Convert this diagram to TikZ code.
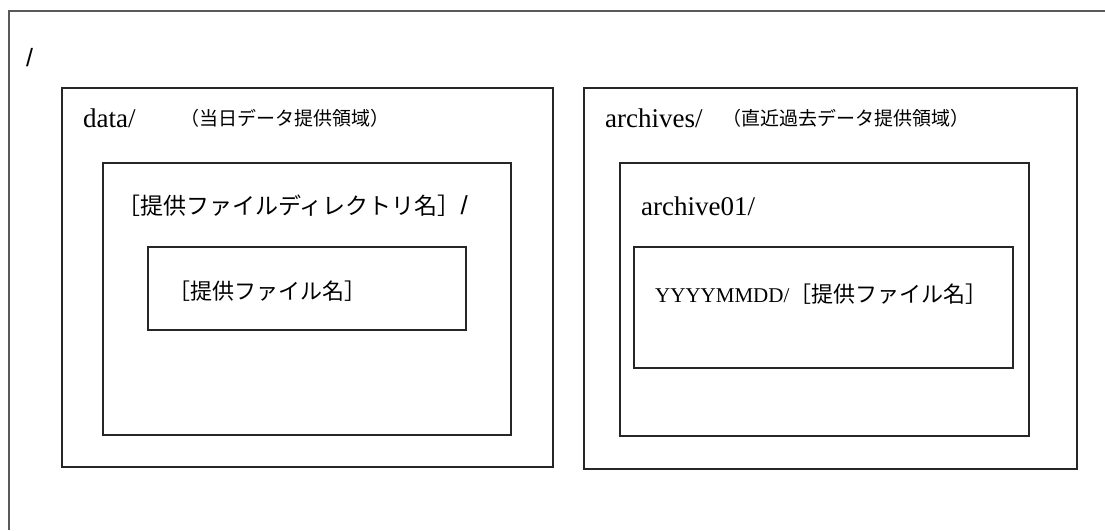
\documentclass[tikz,border=0pt]{standalone}
\usepackage{fontspec}
\setmainfont{Liberation Serif}
\newfontfamily\jpfont{Noto Sans CJK JP}
\newfontfamily\slashfont{Liberation Sans}

\tikzset{
  outerline/.style={draw=black!65,line width=1.8pt},
  dirbox/.style={draw=black!85,line width=1.2pt},
  dirname/.style={anchor=base west,inner sep=0pt,font=\fontsize{27}{27}\selectfont},
  smallname/.style={anchor=base west,inner sep=0pt,font=\fontsize{21}{21}\selectfont},
  jpnote/.style={anchor=base west,inner sep=0pt,font=\jpfont\fontsize{19}{19}\selectfont},
  jpname/.style={anchor=base west,inner sep=0pt,font=\jpfont\fontsize{22}{22}\selectfont},
}

\begin{document}
\begin{tikzpicture}[x=1pt,y=-1pt]
  \useasboundingbox (0,0) rectangle (1105,530);

  % Root
  \draw[outerline] (9,530) -- (9,11) -- (1105,11);
  \node[anchor=base west,inner sep=0pt,font=\slashfont\fontsize{25}{25}\selectfont] (root) at (26,66) {/};

  % data/
  \draw[dirbox] (62,88) rectangle (553,467);
  \node[dirname] (data) at (83,127) {data/};
  \node[jpnote] (datanote) at (180,125) {（当日データ提供領域）};
  \draw[dirbox] (103,163) rectangle (511,435);
  \node[jpname,font=\jpfont\fontsize{23}{23}\selectfont] (provdir) at (117,214)
    {［提供ファイルディレクトリ名］\slashfont\fontsize{26}{26}\selectfont/};
  \draw[dirbox] (148,247) rectangle (466,330);
  \node[jpname] (provfile) at (168,299) {［提供ファイル名］};

  % archives/
  \draw[dirbox] (584,88) rectangle (1077,469);
  \node[dirname] (archives) at (605,127) {archives/};
  \node[jpnote] (archivesnote) at (722,125) {（直近過去データ提供領域）};
  \draw[dirbox] (620,163) rectangle (1029,436);
  \node[dirname] (arch01) at (641,215) {archive01/};
  \draw[dirbox] (634,247) rectangle (1013,368);
  \node[smallname] (tsfile) at (655,302) {YYYYMMDD/\jpfont\fontsize{22}{22}\selectfont［提供ファイル名］};
\end{tikzpicture}
\end{document}
